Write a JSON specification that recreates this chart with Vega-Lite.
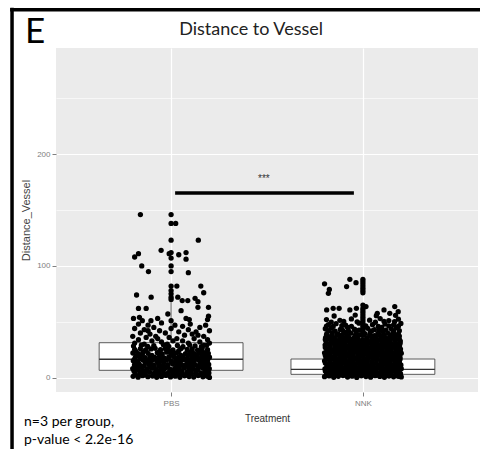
{
  "$schema": "https://vega.github.io/schema/vega-lite/v6.json",
  "width": 422,
  "height": 344,
  "autosize": {"type": "none"},
  "padding": {"left": 56, "top": 48, "right": 2, "bottom": 57},
  "background": "white",
  "config": {"view": {"fill": "#EBEBEB", "stroke": null}, "font": "Liberation Sans"},
  "datasets": {
    "boxes": [
      {"g": "PBS", "lo": 0, "q1": 6.6, "med": 16.5, "q3": 31.3, "hi": 68},
      {"g": "NNK", "lo": 0, "q1": 3.0, "med": 7.5, "q3": 16.7, "hi": 37}
    ],
    "points": [
      {"g":"PBS","j":-0.16,"v":146},{"g":"PBS","j":0,"v":146},{"g":"PBS","j":0,"v":138},{"g":"PBS","j":0.024,"v":138},{"g":"PBS","j":0,"v":123},{"g":"PBS","j":0.142,"v":123},{"g":"PBS","j":-0.052,"v":114},{"g":"PBS","j":-0.01,"v":111},{"g":"PBS","j":0,"v":112},{"g":"PBS","j":0.04,"v":110},{"g":"PBS","j":0.078,"v":112},{"g":"PBS","j":0.078,"v":106},{"g":"PBS","j":-0.17,"v":111},{"g":"PBS","j":-0.19,"v":108},{"g":"PBS","j":0,"v":107},{"g":"PBS","j":-0.153,"v":100},{"g":"PBS","j":-0.118,"v":95},{"g":"PBS","j":0,"v":100},{"g":"PBS","j":0,"v":95},{"g":"PBS","j":0.09,"v":94},{"g":"PBS","j":0,"v":82},{"g":"PBS","j":0.03,"v":82},{"g":"PBS","j":0.155,"v":82},{"g":"PBS","j":0.17,"v":76},{"g":"PBS","j":-0.18,"v":74},{"g":"PBS","j":-0.104,"v":72},{"g":"PBS","j":0,"v":78},{"g":"PBS","j":0,"v":75},{"g":"PBS","j":0,"v":72},{"g":"PBS","j":0,"v":70},{"g":"PBS","j":0.035,"v":72},{"g":"PBS","j":0.058,"v":69},{"g":"PBS","j":0.087,"v":69},{"g":"PBS","j":0.125,"v":71},{"g":"PBS","j":0.14,"v":68},{"g":"PBS","j":0.14,"v":63},{"g":"PBS","j":0.195,"v":63},{"g":"PBS","j":-0.17,"v":62},{"g":"PBS","j":-0.13,"v":62},{"g":"PBS","j":0.052,"v":60},{"g":"PBS","j":-0.017,"v":57},{"g":"PBS","j":0.195,"v":55},{"g":"PBS","j":-0.196,"v":53},{"g":"PBS","j":-0.165,"v":54},{"g":"PBS","j":-0.15,"v":51},{"g":"PBS","j":-0.07,"v":53},{"g":"PBS","j":-0.105,"v":51},{"g":"PBS","j":0.078,"v":53},{"g":"PBS","j":0.095,"v":52},{"g":"PBS","j":0.19,"v":52},{"g":"PBS","j":0,"v":51},
      {"g":"PBS","j":-0.17,"v":48},{"g":"PBS","j":-0.12,"v":47},{"g":"PBS","j":-0.09,"v":45},{"g":"PBS","j":-0.05,"v":49},{"g":"PBS","j":0.02,"v":47},{"g":"PBS","j":0.06,"v":46},{"g":"PBS","j":0.1,"v":48},{"g":"PBS","j":0.15,"v":45},{"g":"PBS","j":0.18,"v":47},{"g":"PBS","j":-0.19,"v":44},{"g":"PBS","j":-0.14,"v":43},{"g":"PBS","j":-0.06,"v":42},{"g":"PBS","j":0,"v":44},{"g":"PBS","j":0.04,"v":41},{"g":"PBS","j":0.09,"v":43},{"g":"PBS","j":0.13,"v":41},{"g":"PBS","j":0.2,"v":42},{"g":"PBS","j":-0.16,"v":40},{"g":"PBS","j":-0.11,"v":39},{"g":"PBS","j":-0.03,"v":40},{"g":"PBS","j":0.07,"v":38},{"g":"PBS","j":0.11,"v":39},{"g":"PBS","j":0.17,"v":37},{"g":"PBS","j":-0.2,"v":37},{"g":"PBS","j":-0.13,"v":36},{"g":"PBS","j":-0.08,"v":37},{"g":"PBS","j":-0.01,"v":36},{"g":"PBS","j":0.03,"v":35},{"g":"PBS","j":0.12,"v":35},{"g":"PBS","j":0.19,"v":34},{"g":"PBS","j":-0.17,"v":34},{"g":"PBS","j":-0.1,"v":33},{"g":"PBS","j":-0.05,"v":32},{"g":"PBS","j":0.06,"v":33},{"g":"PBS","j":0.09,"v":31},{"g":"PBS","j":0.15,"v":32},{"g":"PBS","j":-0.19,"v":31},{"g":"PBS","j":-0.14,"v":30},{"g":"PBS","j":-0.02,"v":30},{"g":"PBS","j":0.01,"v":33},{"g":"PBS","j":0.17,"v":29},{"g":"PBS","j":0.2,"v":31},{"g":"PBS","j":-0.07,"v":35},{"g":"PBS","j":0.14,"v":38},{"g":"PBS","j":-0.12,"v":42},
      {"g":"PBS","j":-0.198,"v":1.2},{"g":"PBS","j":-0.172,"v":0.5},{"g":"PBS","j":-0.149,"v":1.8},{"g":"PBS","j":-0.121,"v":0.9},{"g":"PBS","j":-0.097,"v":1.5},{"g":"PBS","j":-0.075,"v":0.3},{"g":"PBS","j":-0.05,"v":1.1},{"g":"PBS","j":-0.027,"v":2.0},{"g":"PBS","j":-0.003,"v":0.7},{"g":"PBS","j":0.022,"v":1.4},{"g":"PBS","j":0.046,"v":0.4},{"g":"PBS","j":0.07,"v":1.7},{"g":"PBS","j":0.094,"v":1.0},{"g":"PBS","j":0.118,"v":0.6},{"g":"PBS","j":0.141,"v":1.9},{"g":"PBS","j":0.166,"v":0.8},{"g":"PBS","j":0.189,"v":1.3},{"g":"PBS","j":0.2,"v":0.2},
      {"g":"PBS","j":-0.188,"v":4.1},{"g":"PBS","j":-0.163,"v":5.0},{"g":"PBS","j":-0.138,"v":3.6},{"g":"PBS","j":-0.112,"v":4.8},{"g":"PBS","j":-0.087,"v":4.3},{"g":"PBS","j":-0.062,"v":5.2},{"g":"PBS","j":-0.039,"v":3.9},{"g":"PBS","j":-0.014,"v":4.6},{"g":"PBS","j":0.011,"v":5.1},{"g":"PBS","j":0.034,"v":3.7},{"g":"PBS","j":0.058,"v":4.4},{"g":"PBS","j":0.083,"v":4.9},{"g":"PBS","j":0.106,"v":3.8},{"g":"PBS","j":0.13,"v":5.3},{"g":"PBS","j":0.155,"v":4.0},{"g":"PBS","j":0.178,"v":4.7},{"g":"PBS","j":0.197,"v":4.2},
      {"g":"PBS","j":-0.2,"v":8.2},{"g":"PBS","j":-0.175,"v":7.5},{"g":"PBS","j":-0.151,"v":8.9},{"g":"PBS","j":-0.126,"v":7.8},{"g":"PBS","j":-0.1,"v":8.5},{"g":"PBS","j":-0.078,"v":7.2},{"g":"PBS","j":-0.052,"v":8.0},{"g":"PBS","j":-0.029,"v":9.0},{"g":"PBS","j":-0.006,"v":7.6},{"g":"PBS","j":0.019,"v":8.4},{"g":"PBS","j":0.043,"v":7.3},{"g":"PBS","j":0.067,"v":8.7},{"g":"PBS","j":0.092,"v":7.9},{"g":"PBS","j":0.115,"v":8.3},{"g":"PBS","j":0.139,"v":7.1},{"g":"PBS","j":0.163,"v":8.8},{"g":"PBS","j":0.186,"v":7.7},{"g":"PBS","j":0.199,"v":8.1},
      {"g":"PBS","j":-0.191,"v":11.4},{"g":"PBS","j":-0.166,"v":12.1},{"g":"PBS","j":-0.14,"v":10.8},{"g":"PBS","j":-0.115,"v":11.9},{"g":"PBS","j":-0.09,"v":11.2},{"g":"PBS","j":-0.065,"v":12.4},{"g":"PBS","j":-0.041,"v":10.9},{"g":"PBS","j":-0.017,"v":11.6},{"g":"PBS","j":0.008,"v":12.2},{"g":"PBS","j":0.031,"v":11.0},{"g":"PBS","j":0.055,"v":11.7},{"g":"PBS","j":0.08,"v":12.0},{"g":"PBS","j":0.104,"v":10.7},{"g":"PBS","j":0.127,"v":11.5},{"g":"PBS","j":0.152,"v":12.3},{"g":"PBS","j":0.176,"v":11.1},{"g":"PBS","j":0.196,"v":11.8},
      {"g":"PBS","j":-0.197,"v":15.2},{"g":"PBS","j":-0.173,"v":14.6},{"g":"PBS","j":-0.146,"v":15.8},{"g":"PBS","j":-0.123,"v":14.9},{"g":"PBS","j":-0.098,"v":15.5},{"g":"PBS","j":-0.074,"v":14.4},{"g":"PBS","j":-0.049,"v":15.1},{"g":"PBS","j":-0.025,"v":16.0},{"g":"PBS","j":0.0,"v":14.7},{"g":"PBS","j":0.024,"v":15.4},{"g":"PBS","j":0.048,"v":14.5},{"g":"PBS","j":0.072,"v":15.9},{"g":"PBS","j":0.096,"v":15.0},{"g":"PBS","j":0.12,"v":14.8},{"g":"PBS","j":0.144,"v":15.7},{"g":"PBS","j":0.168,"v":14.3},{"g":"PBS","j":0.19,"v":15.3},
      {"g":"PBS","j":-0.186,"v":18.4},{"g":"PBS","j":-0.16,"v":19.2},{"g":"PBS","j":-0.135,"v":17.9},{"g":"PBS","j":-0.11,"v":18.8},{"g":"PBS","j":-0.085,"v":18.1},{"g":"PBS","j":-0.06,"v":19.4},{"g":"PBS","j":-0.036,"v":17.8},{"g":"PBS","j":-0.012,"v":18.6},{"g":"PBS","j":0.013,"v":19.0},{"g":"PBS","j":0.037,"v":18.2},{"g":"PBS","j":0.061,"v":18.9},{"g":"PBS","j":0.085,"v":17.7},{"g":"PBS","j":0.109,"v":19.3},{"g":"PBS","j":0.133,"v":18.5},{"g":"PBS","j":0.158,"v":18.0},{"g":"PBS","j":0.182,"v":19.1},{"g":"PBS","j":0.2,"v":18.3},
      {"g":"PBS","j":-0.199,"v":22.1},{"g":"PBS","j":-0.171,"v":21.5},{"g":"PBS","j":-0.147,"v":22.6},{"g":"PBS","j":-0.12,"v":21.8},{"g":"PBS","j":-0.072,"v":22.4},{"g":"PBS","j":-0.046,"v":21.3},{"g":"PBS","j":-0.023,"v":22.8},{"g":"PBS","j":0.004,"v":21.9},{"g":"PBS","j":0.028,"v":22.2},{"g":"PBS","j":0.075,"v":21.6},{"g":"PBS","j":0.1,"v":22.7},{"g":"PBS","j":0.123,"v":21.4},{"g":"PBS","j":0.147,"v":22.0},{"g":"PBS","j":0.171,"v":22.5},{"g":"PBS","j":0.194,"v":21.7},
      {"g":"PBS","j":-0.19,"v":25.4},{"g":"PBS","j":-0.16,"v":26.0},{"g":"PBS","j":-0.133,"v":24.9},{"g":"PBS","j":-0.104,"v":25.7},{"g":"PBS","j":-0.083,"v":26.3},{"g":"PBS","j":-0.055,"v":25.1},{"g":"PBS","j":-0.03,"v":25.9},{"g":"PBS","j":0.01,"v":24.8},{"g":"PBS","j":0.052,"v":26.1},{"g":"PBS","j":0.084,"v":25.3},{"g":"PBS","j":0.11,"v":25.8},{"g":"PBS","j":0.138,"v":24.7},{"g":"PBS","j":0.162,"v":26.4},{"g":"PBS","j":0.19,"v":25.0},
      {"g":"PBS","j":-0.196,"v":28.3},{"g":"PBS","j":-0.155,"v":29.1},{"g":"PBS","j":-0.122,"v":27.9},{"g":"PBS","j":-0.09,"v":28.7},{"g":"PBS","j":-0.04,"v":29.4},{"g":"PBS","j":-0.012,"v":28.0},{"g":"PBS","j":0.033,"v":28.9},{"g":"PBS","j":0.062,"v":27.7},{"g":"PBS","j":0.097,"v":29.2},{"g":"PBS","j":0.125,"v":28.4},{"g":"PBS","j":0.158,"v":27.8},{"g":"PBS","j":0.185,"v":29.0},
      {"g":"PBS","j":-0.186,"v":2.7},{"g":"PBS","j":-0.16,"v":3.1},{"g":"PBS","j":-0.135,"v":2.5},{"g":"PBS","j":-0.085,"v":2.9},{"g":"PBS","j":-0.062,"v":3.2},{"g":"PBS","j":-0.015,"v":2.6},{"g":"PBS","j":0.01,"v":3.0},{"g":"PBS","j":0.058,"v":2.8},{"g":"PBS","j":0.082,"v":2.4},{"g":"PBS","j":0.13,"v":3.1},{"g":"PBS","j":0.153,"v":2.7},{"g":"PBS","j":0.178,"v":2.9},
      {"g":"PBS","j":-0.194,"v":6.2},{"g":"PBS","j":-0.148,"v":6.6},{"g":"PBS","j":-0.124,"v":6.0},{"g":"PBS","j":-0.075,"v":6.4},{"g":"PBS","j":-0.04,"v":6.7},{"g":"PBS","j":0.005,"v":6.1},{"g":"PBS","j":0.03,"v":6.5},{"g":"PBS","j":0.055,"v":5.9},{"g":"PBS","j":0.104,"v":6.3},{"g":"PBS","j":0.128,"v":6.6},{"g":"PBS","j":0.176,"v":6.0},
      {"g":"PBS","j":-0.18,"v":9.7},{"g":"PBS","j":-0.155,"v":10.1},{"g":"PBS","j":-0.11,"v":9.5},{"g":"PBS","j":-0.088,"v":9.9},{"g":"PBS","j":-0.063,"v":10.2},{"g":"PBS","j":-0.018,"v":9.6},{"g":"PBS","j":0.043,"v":10.0},{"g":"PBS","j":0.068,"v":9.4},{"g":"PBS","j":0.092,"v":9.8},{"g":"PBS","j":0.14,"v":10.3},{"g":"PBS","j":0.165,"v":9.7},{"g":"PBS","j":0.19,"v":9.9},
      {"g":"PBS","j":-0.185,"v":13.2},{"g":"PBS","j":-0.135,"v":13.6},{"g":"PBS","j":-0.11,"v":13.0},{"g":"PBS","j":-0.062,"v":13.4},{"g":"PBS","j":-0.037,"v":13.7},{"g":"PBS","j":0.012,"v":13.1},{"g":"PBS","j":0.036,"v":13.5},{"g":"PBS","j":0.085,"v":12.9},{"g":"PBS","j":0.11,"v":13.3},{"g":"PBS","j":0.158,"v":13.6},{"g":"PBS","j":0.182,"v":13.0},
      {"g":"PBS","j":-0.19,"v":16.7},{"g":"PBS","j":-0.16,"v":17.1},{"g":"PBS","j":-0.112,"v":16.5},{"g":"PBS","j":-0.086,"v":16.9},{"g":"PBS","j":-0.06,"v":17.2},{"g":"PBS","j":-0.012,"v":16.6},{"g":"PBS","j":0.036,"v":17.0},{"g":"PBS","j":0.06,"v":16.4},{"g":"PBS","j":0.108,"v":16.8},{"g":"PBS","j":0.132,"v":17.1},{"g":"PBS","j":0.18,"v":16.5},
      {"g":"PBS","j":-0.176,"v":20.2},{"g":"PBS","j":-0.15,"v":20.6},{"g":"PBS","j":-0.1,"v":20.0},{"g":"PBS","j":-0.05,"v":20.4},{"g":"PBS","j":0.0,"v":20.7},{"g":"PBS","j":0.05,"v":20.1},{"g":"PBS","j":0.088,"v":20.5},{"g":"PBS","j":0.135,"v":19.9},{"g":"PBS","j":0.16,"v":20.3},
      {"g":"PBS","j":-0.185,"v":23.7},{"g":"PBS","j":-0.13,"v":24.1},{"g":"PBS","j":-0.06,"v":23.5},{"g":"PBS","j":-0.01,"v":23.9},{"g":"PBS","j":0.04,"v":24.2},{"g":"PBS","j":0.11,"v":23.6},{"g":"PBS","j":0.16,"v":24.0},
      {"g":"NNK","j":-0.2,"v":0.9},{"g":"NNK","j":-0.176,"v":1.6},{"g":"NNK","j":-0.152,"v":0.4},{"g":"NNK","j":-0.128,"v":1.2},{"g":"NNK","j":-0.104,"v":1.9},{"g":"NNK","j":-0.08,"v":0.6},{"g":"NNK","j":-0.056,"v":1.4},{"g":"NNK","j":-0.032,"v":0.2},{"g":"NNK","j":-0.008,"v":1.7},{"g":"NNK","j":0.016,"v":1.0},{"g":"NNK","j":0.04,"v":0.5},{"g":"NNK","j":0.064,"v":1.8},{"g":"NNK","j":0.088,"v":1.1},{"g":"NNK","j":0.112,"v":0.3},{"g":"NNK","j":0.136,"v":1.5},{"g":"NNK","j":0.16,"v":0.8},{"g":"NNK","j":0.184,"v":1.3},{"g":"NNK","j":0.2,"v":0.7},
      {"g":"NNK","j":-0.19,"v":4.4},{"g":"NNK","j":-0.165,"v":3.8},{"g":"NNK","j":-0.141,"v":5.1},{"g":"NNK","j":-0.117,"v":4.2},{"g":"NNK","j":-0.092,"v":4.9},{"g":"NNK","j":-0.068,"v":3.6},{"g":"NNK","j":-0.044,"v":4.7},{"g":"NNK","j":-0.02,"v":5.3},{"g":"NNK","j":0.004,"v":4.0},{"g":"NNK","j":0.028,"v":4.5},{"g":"NNK","j":0.052,"v":5.0},{"g":"NNK","j":0.076,"v":3.9},{"g":"NNK","j":0.1,"v":4.8},{"g":"NNK","j":0.124,"v":4.1},{"g":"NNK","j":0.148,"v":5.2},{"g":"NNK","j":0.172,"v":4.3},{"g":"NNK","j":0.196,"v":3.7},
      {"g":"NNK","j":-0.198,"v":7.9},{"g":"NNK","j":-0.174,"v":8.6},{"g":"NNK","j":-0.15,"v":7.4},{"g":"NNK","j":-0.125,"v":8.3},{"g":"NNK","j":-0.101,"v":7.7},{"g":"NNK","j":-0.077,"v":8.9},{"g":"NNK","j":-0.053,"v":7.2},{"g":"NNK","j":-0.029,"v":8.1},{"g":"NNK","j":-0.005,"v":8.7},{"g":"NNK","j":0.019,"v":7.5},{"g":"NNK","j":0.043,"v":8.4},{"g":"NNK","j":0.067,"v":7.8},{"g":"NNK","j":0.091,"v":9.0},{"g":"NNK","j":0.115,"v":7.3},{"g":"NNK","j":0.139,"v":8.2},{"g":"NNK","j":0.163,"v":7.6},{"g":"NNK","j":0.187,"v":8.8},{"g":"NNK","j":0.2,"v":8.0},
      {"g":"NNK","j":-0.186,"v":11.2},{"g":"NNK","j":-0.162,"v":11.9},{"g":"NNK","j":-0.138,"v":10.8},{"g":"NNK","j":-0.113,"v":12.2},{"g":"NNK","j":-0.089,"v":11.5},{"g":"NNK","j":-0.065,"v":10.9},{"g":"NNK","j":-0.041,"v":12.0},{"g":"NNK","j":-0.017,"v":11.3},{"g":"NNK","j":0.007,"v":11.8},{"g":"NNK","j":0.031,"v":10.7},{"g":"NNK","j":0.055,"v":12.3},{"g":"NNK","j":0.079,"v":11.1},{"g":"NNK","j":0.103,"v":11.6},{"g":"NNK","j":0.127,"v":12.1},{"g":"NNK","j":0.151,"v":10.9},{"g":"NNK","j":0.175,"v":11.7},{"g":"NNK","j":0.198,"v":11.4},
      {"g":"NNK","j":-0.2,"v":15.1},{"g":"NNK","j":-0.171,"v":14.5},{"g":"NNK","j":-0.147,"v":15.7},{"g":"NNK","j":-0.122,"v":14.8},{"g":"NNK","j":-0.098,"v":15.4},{"g":"NNK","j":-0.074,"v":14.3},{"g":"NNK","j":-0.05,"v":15.9},{"g":"NNK","j":-0.026,"v":15.0},{"g":"NNK","j":-0.002,"v":14.6},{"g":"NNK","j":0.022,"v":15.5},{"g":"NNK","j":0.046,"v":14.4},{"g":"NNK","j":0.07,"v":15.8},{"g":"NNK","j":0.094,"v":14.9},{"g":"NNK","j":0.118,"v":15.3},{"g":"NNK","j":0.142,"v":14.7},{"g":"NNK","j":0.166,"v":15.6},{"g":"NNK","j":0.19,"v":15.2},
      {"g":"NNK","j":-0.193,"v":18.6},{"g":"NNK","j":-0.168,"v":19.1},{"g":"NNK","j":-0.144,"v":18.0},{"g":"NNK","j":-0.119,"v":18.9},{"g":"NNK","j":-0.095,"v":18.3},{"g":"NNK","j":-0.071,"v":19.3},{"g":"NNK","j":-0.047,"v":17.9},{"g":"NNK","j":-0.023,"v":18.7},{"g":"NNK","j":0.001,"v":19.0},{"g":"NNK","j":0.025,"v":18.2},{"g":"NNK","j":0.049,"v":18.8},{"g":"NNK","j":0.073,"v":18.1},{"g":"NNK","j":0.097,"v":19.2},{"g":"NNK","j":0.121,"v":18.4},{"g":"NNK","j":0.145,"v":17.8},{"g":"NNK","j":0.169,"v":18.9},{"g":"NNK","j":0.193,"v":18.5},
      {"g":"NNK","j":-0.2,"v":22.3},{"g":"NNK","j":-0.178,"v":21.6},{"g":"NNK","j":-0.154,"v":22.8},{"g":"NNK","j":-0.13,"v":21.9},{"g":"NNK","j":-0.106,"v":22.5},{"g":"NNK","j":-0.082,"v":21.4},{"g":"NNK","j":-0.058,"v":22.1},{"g":"NNK","j":-0.034,"v":22.9},{"g":"NNK","j":-0.01,"v":21.7},{"g":"NNK","j":0.014,"v":22.4},{"g":"NNK","j":0.038,"v":21.5},{"g":"NNK","j":0.062,"v":22.7},{"g":"NNK","j":0.086,"v":22.0},{"g":"NNK","j":0.11,"v":21.8},{"g":"NNK","j":0.134,"v":22.6},{"g":"NNK","j":0.158,"v":21.3},{"g":"NNK","j":0.182,"v":22.2},{"g":"NNK","j":0.2,"v":21.9},
      {"g":"NNK","j":-0.188,"v":25.6},{"g":"NNK","j":-0.164,"v":25.0},{"g":"NNK","j":-0.14,"v":26.2},{"g":"NNK","j":-0.116,"v":25.3},{"g":"NNK","j":-0.092,"v":25.9},{"g":"NNK","j":-0.068,"v":24.8},{"g":"NNK","j":-0.044,"v":25.5},{"g":"NNK","j":-0.02,"v":26.3},{"g":"NNK","j":0.004,"v":25.1},{"g":"NNK","j":0.028,"v":25.8},{"g":"NNK","j":0.052,"v":24.9},{"g":"NNK","j":0.076,"v":26.0},{"g":"NNK","j":0.1,"v":25.4},{"g":"NNK","j":0.124,"v":25.7},{"g":"NNK","j":0.148,"v":26.1},{"g":"NNK","j":0.172,"v":25.2},{"g":"NNK","j":0.196,"v":25.6},
      {"g":"NNK","j":-0.197,"v":29.2},{"g":"NNK","j":-0.17,"v":28.5},{"g":"NNK","j":-0.146,"v":29.6},{"g":"NNK","j":-0.121,"v":28.8},{"g":"NNK","j":-0.097,"v":29.4},{"g":"NNK","j":-0.073,"v":28.3},{"g":"NNK","j":-0.049,"v":29.0},{"g":"NNK","j":-0.025,"v":29.7},{"g":"NNK","j":-0.001,"v":28.6},{"g":"NNK","j":0.023,"v":29.3},{"g":"NNK","j":0.047,"v":28.4},{"g":"NNK","j":0.071,"v":29.5},{"g":"NNK","j":0.095,"v":28.9},{"g":"NNK","j":0.119,"v":29.1},{"g":"NNK","j":0.143,"v":28.7},{"g":"NNK","j":0.167,"v":29.8},{"g":"NNK","j":0.191,"v":28.6},
      {"g":"NNK","j":-0.192,"v":32.4},{"g":"NNK","j":-0.163,"v":33.0},{"g":"NNK","j":-0.137,"v":32.1},{"g":"NNK","j":-0.108,"v":32.8},{"g":"NNK","j":-0.084,"v":33.3},{"g":"NNK","j":-0.059,"v":32.2},{"g":"NNK","j":-0.031,"v":32.9},{"g":"NNK","j":-0.006,"v":32.5},{"g":"NNK","j":0.021,"v":33.1},{"g":"NNK","j":0.044,"v":32.0},{"g":"NNK","j":0.069,"v":32.7},{"g":"NNK","j":0.092,"v":33.4},{"g":"NNK","j":0.117,"v":32.3},{"g":"NNK","j":0.141,"v":32.6},{"g":"NNK","j":0.168,"v":33.2},{"g":"NNK","j":0.195,"v":32.8},
      {"g":"NNK","j":-0.188,"v":2.6},{"g":"NNK","j":-0.164,"v":3.0},{"g":"NNK","j":-0.14,"v":2.4},{"g":"NNK","j":-0.116,"v":2.9},{"g":"NNK","j":-0.092,"v":2.5},{"g":"NNK","j":-0.068,"v":3.1},{"g":"NNK","j":-0.044,"v":2.7},{"g":"NNK","j":-0.02,"v":2.3},{"g":"NNK","j":0.004,"v":2.8},{"g":"NNK","j":0.028,"v":3.2},{"g":"NNK","j":0.052,"v":2.6},{"g":"NNK","j":0.076,"v":2.4},{"g":"NNK","j":0.1,"v":3.0},{"g":"NNK","j":0.124,"v":2.7},{"g":"NNK","j":0.148,"v":2.5},{"g":"NNK","j":0.172,"v":2.9},{"g":"NNK","j":0.194,"v":2.8},
      {"g":"NNK","j":-0.196,"v":6.1},{"g":"NNK","j":-0.172,"v":6.5},{"g":"NNK","j":-0.146,"v":5.9},{"g":"NNK","j":-0.122,"v":6.3},{"g":"NNK","j":-0.098,"v":6.6},{"g":"NNK","j":-0.074,"v":5.8},{"g":"NNK","j":-0.05,"v":6.2},{"g":"NNK","j":-0.026,"v":6.4},{"g":"NNK","j":-0.002,"v":6.0},{"g":"NNK","j":0.022,"v":6.7},{"g":"NNK","j":0.046,"v":6.1},{"g":"NNK","j":0.07,"v":5.9},{"g":"NNK","j":0.094,"v":6.3},{"g":"NNK","j":0.118,"v":6.5},{"g":"NNK","j":0.142,"v":6.0},{"g":"NNK","j":0.166,"v":6.2},{"g":"NNK","j":0.19,"v":6.4},
      {"g":"NNK","j":-0.188,"v":9.6},{"g":"NNK","j":-0.164,"v":10.0},{"g":"NNK","j":-0.14,"v":9.4},{"g":"NNK","j":-0.116,"v":9.9},{"g":"NNK","j":-0.092,"v":9.5},{"g":"NNK","j":-0.068,"v":10.1},{"g":"NNK","j":-0.044,"v":9.7},{"g":"NNK","j":-0.02,"v":9.3},{"g":"NNK","j":0.004,"v":9.8},{"g":"NNK","j":0.028,"v":10.2},{"g":"NNK","j":0.052,"v":9.6},{"g":"NNK","j":0.076,"v":9.4},{"g":"NNK","j":0.1,"v":10.0},{"g":"NNK","j":0.124,"v":9.7},{"g":"NNK","j":0.148,"v":9.5},{"g":"NNK","j":0.172,"v":9.9},{"g":"NNK","j":0.194,"v":9.8},
      {"g":"NNK","j":-0.196,"v":13.1},{"g":"NNK","j":-0.172,"v":13.5},{"g":"NNK","j":-0.146,"v":12.9},{"g":"NNK","j":-0.122,"v":13.3},{"g":"NNK","j":-0.098,"v":13.6},{"g":"NNK","j":-0.074,"v":12.8},{"g":"NNK","j":-0.05,"v":13.2},{"g":"NNK","j":-0.026,"v":13.4},{"g":"NNK","j":-0.002,"v":13.0},{"g":"NNK","j":0.022,"v":13.7},{"g":"NNK","j":0.046,"v":13.1},{"g":"NNK","j":0.07,"v":12.9},{"g":"NNK","j":0.094,"v":13.3},{"g":"NNK","j":0.118,"v":13.5},{"g":"NNK","j":0.142,"v":13.0},{"g":"NNK","j":0.166,"v":13.2},{"g":"NNK","j":0.19,"v":13.4},
      {"g":"NNK","j":-0.188,"v":16.6},{"g":"NNK","j":-0.164,"v":17.0},{"g":"NNK","j":-0.14,"v":16.4},{"g":"NNK","j":-0.116,"v":16.9},{"g":"NNK","j":-0.092,"v":16.5},{"g":"NNK","j":-0.068,"v":17.1},{"g":"NNK","j":-0.044,"v":16.7},{"g":"NNK","j":-0.02,"v":16.3},{"g":"NNK","j":0.004,"v":16.8},{"g":"NNK","j":0.028,"v":17.2},{"g":"NNK","j":0.052,"v":16.6},{"g":"NNK","j":0.076,"v":16.4},{"g":"NNK","j":0.1,"v":17.0},{"g":"NNK","j":0.124,"v":16.7},{"g":"NNK","j":0.148,"v":16.5},{"g":"NNK","j":0.172,"v":16.9},{"g":"NNK","j":0.194,"v":16.8},
      {"g":"NNK","j":-0.196,"v":20.1},{"g":"NNK","j":-0.172,"v":20.5},{"g":"NNK","j":-0.146,"v":19.9},{"g":"NNK","j":-0.122,"v":20.3},{"g":"NNK","j":-0.098,"v":20.6},{"g":"NNK","j":-0.074,"v":19.8},{"g":"NNK","j":-0.05,"v":20.2},{"g":"NNK","j":-0.026,"v":20.4},{"g":"NNK","j":-0.002,"v":20.0},{"g":"NNK","j":0.022,"v":20.7},{"g":"NNK","j":0.046,"v":20.1},{"g":"NNK","j":0.07,"v":19.9},{"g":"NNK","j":0.094,"v":20.3},{"g":"NNK","j":0.118,"v":20.5},{"g":"NNK","j":0.142,"v":20.0},{"g":"NNK","j":0.166,"v":20.2},{"g":"NNK","j":0.19,"v":20.4},
      {"g":"NNK","j":-0.188,"v":23.6},{"g":"NNK","j":-0.164,"v":24.0},{"g":"NNK","j":-0.14,"v":23.4},{"g":"NNK","j":-0.116,"v":23.9},{"g":"NNK","j":-0.092,"v":23.5},{"g":"NNK","j":-0.068,"v":24.1},{"g":"NNK","j":-0.044,"v":23.7},{"g":"NNK","j":-0.02,"v":23.3},{"g":"NNK","j":0.004,"v":23.8},{"g":"NNK","j":0.028,"v":24.2},{"g":"NNK","j":0.052,"v":23.6},{"g":"NNK","j":0.076,"v":23.4},{"g":"NNK","j":0.1,"v":24.0},{"g":"NNK","j":0.124,"v":23.7},{"g":"NNK","j":0.148,"v":23.5},{"g":"NNK","j":0.172,"v":23.9},{"g":"NNK","j":0.194,"v":23.8},
      {"g":"NNK","j":-0.196,"v":27.1},{"g":"NNK","j":-0.172,"v":27.5},{"g":"NNK","j":-0.146,"v":26.9},{"g":"NNK","j":-0.122,"v":27.3},{"g":"NNK","j":-0.098,"v":27.6},{"g":"NNK","j":-0.074,"v":26.8},{"g":"NNK","j":-0.05,"v":27.2},{"g":"NNK","j":-0.026,"v":27.4},{"g":"NNK","j":-0.002,"v":27.0},{"g":"NNK","j":0.022,"v":27.7},{"g":"NNK","j":0.046,"v":27.1},{"g":"NNK","j":0.07,"v":26.9},{"g":"NNK","j":0.094,"v":27.3},{"g":"NNK","j":0.118,"v":27.5},{"g":"NNK","j":0.142,"v":27.0},{"g":"NNK","j":0.166,"v":27.2},{"g":"NNK","j":0.19,"v":27.4},
      {"g":"NNK","j":-0.188,"v":30.6},{"g":"NNK","j":-0.164,"v":31.0},{"g":"NNK","j":-0.14,"v":30.4},{"g":"NNK","j":-0.116,"v":30.9},{"g":"NNK","j":-0.092,"v":30.5},{"g":"NNK","j":-0.068,"v":31.1},{"g":"NNK","j":-0.044,"v":30.7},{"g":"NNK","j":-0.02,"v":30.3},{"g":"NNK","j":0.004,"v":30.8},{"g":"NNK","j":0.028,"v":31.2},{"g":"NNK","j":0.052,"v":30.6},{"g":"NNK","j":0.076,"v":30.4},{"g":"NNK","j":0.1,"v":31.0},{"g":"NNK","j":0.124,"v":30.7},{"g":"NNK","j":0.148,"v":30.5},{"g":"NNK","j":0.172,"v":30.9},{"g":"NNK","j":0.194,"v":30.8},
      {"g":"NNK","j":-0.196,"v":34.1},{"g":"NNK","j":-0.172,"v":34.5},{"g":"NNK","j":-0.146,"v":33.9},{"g":"NNK","j":-0.122,"v":34.3},{"g":"NNK","j":-0.098,"v":34.6},{"g":"NNK","j":-0.074,"v":33.8},{"g":"NNK","j":-0.05,"v":34.2},{"g":"NNK","j":-0.026,"v":34.4},{"g":"NNK","j":-0.002,"v":34.0},{"g":"NNK","j":0.022,"v":34.7},{"g":"NNK","j":0.046,"v":34.1},{"g":"NNK","j":0.07,"v":33.9},{"g":"NNK","j":0.094,"v":34.3},{"g":"NNK","j":0.118,"v":34.5},{"g":"NNK","j":0.142,"v":34.0},{"g":"NNK","j":0.166,"v":34.2},{"g":"NNK","j":0.19,"v":34.4},
      {"g":"NNK","j":-0.19,"v":38.1},{"g":"NNK","j":-0.16,"v":37.8},{"g":"NNK","j":-0.135,"v":38.4},{"g":"NNK","j":-0.11,"v":38.0},{"g":"NNK","j":-0.085,"v":38.6},{"g":"NNK","j":-0.04,"v":37.9},{"g":"NNK","j":-0.015,"v":38.3},{"g":"NNK","j":0.035,"v":38.2},{"g":"NNK","j":0.06,"v":37.7},{"g":"NNK","j":0.085,"v":38.5},{"g":"NNK","j":0.11,"v":38.0},{"g":"NNK","j":0.15,"v":38.3},{"g":"NNK","j":0.175,"v":37.9},
      {"g":"NNK","j":-0.18,"v":42.0},{"g":"NNK","j":-0.145,"v":41.7},{"g":"NNK","j":-0.105,"v":42.3},{"g":"NNK","j":-0.075,"v":41.9},{"g":"NNK","j":-0.02,"v":42.5},{"g":"NNK","j":0.045,"v":41.8},{"g":"NNK","j":0.085,"v":42.2},{"g":"NNK","j":0.12,"v":42.6},{"g":"NNK","j":0.16,"v":41.6},{"g":"NNK","j":0.19,"v":42.1},{"g":"NNK","j":-0.04,"v":42.8},
      {"g":"NNK","j":-0.19,"v":46.2},{"g":"NNK","j":-0.155,"v":45.8},{"g":"NNK","j":-0.11,"v":46.5},{"g":"NNK","j":-0.06,"v":46.0},{"g":"NNK","j":0.015,"v":46.4},{"g":"NNK","j":0.08,"v":45.9},{"g":"NNK","j":0.135,"v":46.3},{"g":"NNK","j":0.185,"v":46.1},
      {"g":"NNK","j":-0.165,"v":49.8},{"g":"NNK","j":-0.1,"v":50.3},{"g":"NNK","j":-0.03,"v":50.0},{"g":"NNK","j":0.065,"v":49.6},{"g":"NNK","j":0.11,"v":50.4},{"g":"NNK","j":0.165,"v":50.1},
      {"g":"NNK","j":-0.195,"v":35.5},{"g":"NNK","j":-0.17,"v":36.8},{"g":"NNK","j":-0.148,"v":35.2},{"g":"NNK","j":-0.122,"v":37.1},{"g":"NNK","j":-0.1,"v":35.8},{"g":"NNK","j":-0.075,"v":36.4},{"g":"NNK","j":-0.05,"v":35.1},{"g":"NNK","j":-0.028,"v":37.3},{"g":"NNK","j":0.02,"v":35.6},{"g":"NNK","j":0.045,"v":36.9},{"g":"NNK","j":0.07,"v":35.3},{"g":"NNK","j":0.093,"v":37.0},{"g":"NNK","j":0.118,"v":35.9},{"g":"NNK","j":0.14,"v":36.5},{"g":"NNK","j":0.165,"v":35.4},{"g":"NNK","j":0.19,"v":37.2},
      {"g":"NNK","j":-0.188,"v":39.5},{"g":"NNK","j":-0.16,"v":40.2},{"g":"NNK","j":-0.13,"v":39.1},{"g":"NNK","j":-0.095,"v":40.6},{"g":"NNK","j":-0.062,"v":39.8},{"g":"NNK","j":-0.035,"v":41.0},{"g":"NNK","j":0.01,"v":39.4},{"g":"NNK","j":0.038,"v":40.8},{"g":"NNK","j":0.078,"v":39.6},{"g":"NNK","j":0.105,"v":41.1},{"g":"NNK","j":0.13,"v":39.9},{"g":"NNK","j":0.158,"v":40.5},{"g":"NNK","j":0.185,"v":39.2},
      {"g":"NNK","j":-0.196,"v":43.8},{"g":"NNK","j":-0.165,"v":44.5},{"g":"NNK","j":-0.118,"v":43.2},{"g":"NNK","j":-0.08,"v":44.9},{"g":"NNK","j":-0.045,"v":43.5},{"g":"NNK","j":0.025,"v":44.2},{"g":"NNK","j":0.06,"v":43.0},{"g":"NNK","j":0.098,"v":45.0},{"g":"NNK","j":0.148,"v":43.7},{"g":"NNK","j":0.175,"v":44.6},
      {"g":"NNK","j":-0.18,"v":47.5},{"g":"NNK","j":-0.14,"v":48.3},{"g":"NNK","j":-0.09,"v":47.0},{"g":"NNK","j":-0.02,"v":48.8},{"g":"NNK","j":0.05,"v":47.4},{"g":"NNK","j":0.115,"v":48.0},{"g":"NNK","j":0.16,"v":47.2},{"g":"NNK","j":0.198,"v":48.6},
      {"g":"NNK","j":-0.19,"v":52.0},{"g":"NNK","j":-0.12,"v":51.3},{"g":"NNK","j":-0.06,"v":52.6},{"g":"NNK","j":0.035,"v":51.5},{"g":"NNK","j":0.09,"v":52.9},{"g":"NNK","j":0.135,"v":51.1},{"g":"NNK","j":0.185,"v":52.4},
      {"g":"NNK","j":-0.15,"v":55.2},{"g":"NNK","j":-0.04,"v":56.0},{"g":"NNK","j":0.07,"v":55.5},{"g":"NNK","j":0.17,"v":55.8},
      {"g":"NNK","j":-0.189,"v":60.6},{"g":"NNK","j":-0.155,"v":62.1},{"g":"NNK","j":-0.124,"v":62.1},{"g":"NNK","j":-0.068,"v":60.6},{"g":"NNK","j":-0.034,"v":62.1},{"g":"NNK","j":0.016,"v":63.6},{"g":"NNK","j":0.075,"v":57.6},{"g":"NNK","j":0.11,"v":60.6},{"g":"NNK","j":0.14,"v":57.6},{"g":"NNK","j":0.166,"v":63.6},{"g":"NNK","j":0.184,"v":59.1},
      {"g":"NNK","j":-0.2,"v":84},{"g":"NNK","j":-0.175,"v":79},{"g":"NNK","j":-0.18,"v":75.5},{"g":"NNK","j":-0.068,"v":88},{"g":"NNK","j":-0.036,"v":85},{"g":"NNK","j":-0.085,"v":81.5},
      {"g":"NNK","j":0,"v":38},{"g":"NNK","j":0,"v":40},{"g":"NNK","j":0,"v":42},{"g":"NNK","j":0,"v":44},{"g":"NNK","j":0,"v":46},{"g":"NNK","j":0,"v":48},{"g":"NNK","j":0,"v":50},{"g":"NNK","j":0,"v":52},{"g":"NNK","j":0,"v":54},{"g":"NNK","j":0,"v":56},{"g":"NNK","j":0,"v":58},{"g":"NNK","j":0,"v":60},{"g":"NNK","j":0,"v":62},{"g":"NNK","j":0,"v":65},{"g":"NNK","j":0,"v":76},{"g":"NNK","j":0,"v":78},{"g":"NNK","j":0,"v":80},{"g":"NNK","j":0,"v":82},{"g":"NNK","j":0,"v":84},{"g":"NNK","j":0,"v":86},{"g":"NNK","j":0,"v":88}
    ]
  },
  "layer": [
    {
      "data": {"name": "boxes"},
      "transform": [{"calculate": "datum.g === 'PBS' ? 1 : 2", "as": "c"}],
      "mark": {"type": "rule", "color": "#333333", "strokeWidth": 0.8},
      "encoding": {
        "x": {"field": "c", "type": "quantitative", "scale": {"domain": [0.4, 2.6], "nice": false, "zero": false},
          "axis": {"values": [1, 2], "labelExpr": "datum.value === 1 ? 'PBS' : 'NNK'", "title": "Treatment", "titleFont": "Liberation Sans", "titleFontSize": 10, "titleFontWeight": "normal", "titleColor": "#333333", "titlePadding": 6, "labelFontSize": 8, "labelColor": "#808080", "labelPadding": 3, "tickSize": 4, "tickColor": "#808080", "domain": false, "grid": true, "gridColor": "white", "gridWidth": 1.2}},
        "y": {"field": "q3", "type": "quantitative", "scale": {"domain": [-12.8, 295], "nice": false, "zero": false},
          "axis": {"values": [0, 50, 100, 150, 200, 250], "labelExpr": "datum.value % 100 === 0 ? datum.label : ''", "title": "Distance_Vessel", "titleFont": "Liberation Sans", "titleFontSize": 11, "titleFontWeight": "normal", "titleColor": "#444444", "titlePadding": 5, "labelFontSize": 8, "labelColor": "#808080", "labelPadding": 2, "tickSize": 4, "tickColor": "#808080", "tickOpacity": {"condition": {"test": "datum.value % 100 === 0", "value": 1}, "value": 0}, "domain": false, "grid": true, "gridColor": "white", "gridWidth": {"condition": {"test": "datum.value % 100 === 0", "value": 1.2}, "value": 0.6}}},
        "y2": {"field": "hi"}
      }
    },
    {
      "data": {"name": "boxes"},
      "transform": [{"calculate": "datum.g === 'PBS' ? 1 : 2", "as": "c"}],
      "mark": {"type": "rule", "color": "#333333", "strokeWidth": 0.8},
      "encoding": {
        "x": {"field": "c", "type": "quantitative"},
        "y": {"field": "lo", "type": "quantitative"},
        "y2": {"field": "q1"}
      }
    },
    {
      "data": {"name": "boxes"},
      "transform": [{"calculate": "(datum.g === 'PBS' ? 1 : 2) - 0.375", "as": "left"}, {"calculate": "(datum.g === 'PBS' ? 1 : 2) + 0.375", "as": "right"}],
      "mark": {"type": "rect", "fill": "white", "stroke": "#333333", "strokeWidth": 0.8},
      "encoding": {
        "x": {"field": "left", "type": "quantitative"},
        "x2": {"field": "right"},
        "y": {"field": "q1", "type": "quantitative"},
        "y2": {"field": "q3"}
      }
    },
    {
      "data": {"name": "boxes"},
      "transform": [{"calculate": "(datum.g === 'PBS' ? 1 : 2) - 0.375", "as": "left"}, {"calculate": "(datum.g === 'PBS' ? 1 : 2) + 0.375", "as": "right"}],
      "mark": {"type": "rule", "color": "#333333", "strokeWidth": 1.3},
      "encoding": {
        "x": {"field": "left", "type": "quantitative"},
        "x2": {"field": "right"},
        "y": {"field": "med", "type": "quantitative"}
      }
    },
    {
      "data": {"name": "points"},
      "transform": [{"calculate": "(datum.g === 'PBS' ? 1 : 2) + datum.j", "as": "px"}],
      "mark": {"type": "circle", "size": 28, "color": "black", "opacity": 1},
      "encoding": {
        "x": {"field": "px", "type": "quantitative"},
        "y": {"field": "v", "type": "quantitative"}
      }
    },
    {
      "data": {"values": [{}]},
      "mark": {"type": "rule", "color": "black", "strokeWidth": 3.5},
      "encoding": {
        "x": {"datum": 1.021, "type": "quantitative"},
        "x2": {"datum": 1.953},
        "y": {"datum": 165.3, "type": "quantitative"}
      }
    },
    {
      "data": {"values": [{}]},
      "mark": {"type": "text", "text": "***", "font": "Liberation Sans", "fontSize": 10, "color": "#333333", "align": "center", "baseline": "middle"},
      "encoding": {
        "x": {"datum": 1.484, "type": "quantitative"},
        "y": {"datum": 178.2, "type": "quantitative"}
      }
    },
    {
      "data": {"values": [{}]},
      "mark": {"type": "text", "text": "Distance to Vessel", "font": "Lato", "fontSize": 18, "color": "#222222", "align": "center", "baseline": "alphabetic"},
      "encoding": {
        "x": {"datum": 1.417, "type": "quantitative"},
        "y": {"datum": 306.6, "type": "quantitative"}
      }
    },
    {
      "data": {"values": [{}]},
      "mark": {"type": "text", "text": "E", "font": "Lato", "fontSize": 35, "color": "black", "align": "left", "baseline": "alphabetic"},
      "encoding": {
        "x": {"datum": 0.2385, "type": "quantitative"},
        "y": {"datum": 299.5, "type": "quantitative"}
      }
    },
    {
      "data": {"values": [{}]},
      "mark": {"type": "text", "text": ["n=3 per group,", "p-value < 2.2e-16"], "font": "Lato", "fontSize": 14, "lineHeight": 18, "color": "black", "align": "left", "baseline": "alphabetic"},
      "encoding": {
        "x": {"datum": 0.2333, "type": "quantitative"},
        "y": {"datum": -42.9, "type": "quantitative"}
      }
    },
    {
      "data": {"values": [{}]},
      "mark": {"type": "rule", "color": "black", "strokeWidth": 3.5},
      "encoding": {
        "x": {"datum": 0.1708, "type": "quantitative"},
        "y": {"datum": 331, "type": "quantitative"},
        "y2": {"datum": -80}
      }
    },
    {
      "data": {"values": [{}]},
      "mark": {"type": "rule", "color": "black", "strokeWidth": 3.5},
      "encoding": {
        "x": {"datum": 0.161, "type": "quantitative"},
        "x2": {"datum": 2.7},
        "y": {"datum": 329.3, "type": "quantitative"}
      }
    }
  ]
}
